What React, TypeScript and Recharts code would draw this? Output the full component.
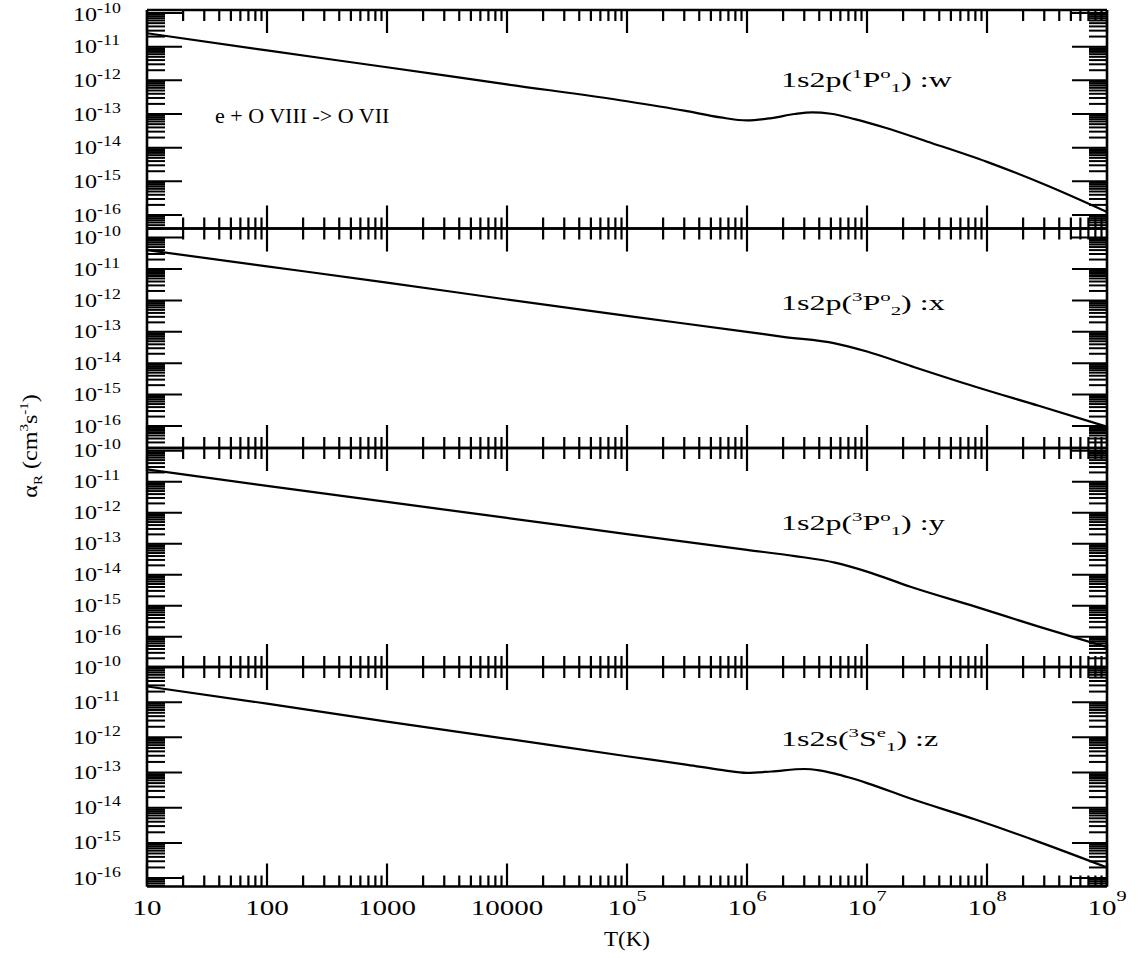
import React from "react";
import { LineChart, Line, XAxis, YAxis } from "recharts";

const W = 1144;
const H = 958;
const SERIF = "'Liberation Serif', 'Times New Roman', serif";

// radiative recombination rate coefficients, e + O VIII -> O VII (cm^3 s^-1)
const tempW = [10, 100, 1e3, 1e4, 1e5, 3e5, 6e5, 1e6, 1.6e6, 2.5e6, 3.5e6, 5e6, 7.9e6, 1.4e7, 3.2e7, 1e8, 3.2e8, 1e9];
const rateW = [2.51e-11, 7.76e-12, 2.45e-12, 7.59e-13, 2.4e-13, 1.26e-13, 7.94e-14, 6.46e-14, 7.59e-14, 1.0e-13, 1.12e-13, 1.02e-13, 7.08e-14, 3.98e-14, 1.51e-14, 3.8e-15, 7.41e-16, 1.23e-16];

const tempX = [10, 100, 1e3, 1e4, 1e5, 1e6, 2e6, 5.4e6, 1e7, 2.4e7, 8e7, 2.7e8, 1e9];
const rateX = [4.0e-11, 1.22e-11, 3.7e-12, 1.07e-12, 3.2e-13, 1.0e-13, 6.9e-14, 4.3e-14, 2.35e-14, 7.8e-15, 1.78e-15, 4.4e-16, 9.5e-17];

const tempY = [10, 100, 1e3, 1e4, 1e5, 1e6, 2.5e6, 5.4e6, 1e7, 2.3e7, 8e7, 2.7e8, 1e9];
const rateY = [2.5e-11, 7.4e-12, 2.24e-12, 6.8e-13, 2.04e-13, 6.3e-14, 4.0e-14, 2.45e-14, 1.26e-14, 4.1e-15, 9.3e-16, 2.1e-16, 4.6e-17];

const tempZ = [10, 100, 1e3, 1e4, 1e5, 3.2e5, 6.3e5, 1e6, 1.6e6, 3e6, 4e6, 5.4e6, 7.1e6, 1e7, 2.3e7, 8e7, 2.7e8, 1e9];
const rateZ = [2.8e-11, 9.1e-12, 2.8e-12, 9.1e-13, 2.9e-13, 1.66e-13, 1.17e-13, 9.8e-14, 1.07e-13, 1.26e-13, 1.15e-13, 9.3e-14, 7.2e-14, 5.0e-14, 1.82e-14, 4.6e-15, 1.07e-15, 2.0e-16];

// state labels
const stateHead = ["1s2p(", "1s2p(", "1s2p(", "1s2s("];
const stateMult = ["1", "3", "3", "3"];
const stateTerm = ["P", "P", "P", "S"];
const stateParity = ["o", "o", "o", "e"];
const stateJ = ["1", "2", "1", "1"];
const stateLine = ["w", "x", "y", "z"];

// x tick labels
const xMajor = [10, 100, 1e3, 1e4, 1e5, 1e6, 1e7, 1e8, 1e9];
const xMajorBase = ["10", "100", "1000", "10000", "10", "10", "10", "10", "10"];
const xMajorExp = ["", "", "", "", "5", "6", "7", "8", "9"];

// panel layout (pixels) and y ranges (log10 of the domain ends)
const panelTop = [10, 228.5, 448, 667];
const panelBottom = [228.5, 448, 667, 886.5];
const yLowExp = [-16.4, -16.7, -16.98, -16.24];
const yHighExp = [-9.91, -9.71, -9.91, -10];
const labelBaseline = [87, 310, 530, 746];

const PLOT_LEFT = 147;
const PLOT_RIGHT = 1107;

const xTicks: number[] = [];
for (let n = 1; n <= 8; n++) for (let k = 1; k <= 9; k++) xTicks.push(k * 10 ** n);
xTicks.push(1e9);

const yTicksAll: number[] = [];
for (let n = -17; n <= -10; n++) for (let k = 1; k <= 9; k++) yTicksAll.push(k * 10 ** n);

const isMajor = (v: number) => Math.abs(Math.log10(v) - Math.round(Math.log10(v))) < 1e-6;

const LeftTick = (props: any) => {
  const { x, y, payload } = props;
  const major = isMajor(payload.value);
  const exp = Math.round(Math.log10(payload.value));
  // keep the topmost label inside the picture
  const ty = Math.max(y, 14);
  return (
    <g>
      <line x1={x} x2={x + (major ? 35 : 18)} y1={y} y2={y} stroke="#000" strokeWidth={2} />
      {major && (
        <text transform={`translate(73, ${ty + 6.5}) scale(1.27, 1)`} fontFamily={SERIF} fontSize={19} fill="#000">
          10
          <tspan fontSize={14} dy={-8}>{`${exp}`}</tspan>
        </text>
      )}
    </g>
  );
};

const RightTick = (props: any) => {
  const { x, y, payload } = props;
  const major = isMajor(payload.value);
  return <line x1={x} x2={x - (major ? 35 : 18)} y1={y} y2={y} stroke="#000" strokeWidth={2} />;
};

const TopTick = (props: any) => {
  const { x, y, payload } = props;
  const major = isMajor(payload.value);
  return <line x1={x} x2={x} y1={y} y2={y + (major ? 23 : 11)} stroke="#000" strokeWidth={2.2} />;
};

const BottomTick = (props: any) => {
  const { x, y, payload, showLabel } = props;
  const major = isMajor(payload.value);
  const idx = xMajor.findIndex((m) => Math.abs(m - payload.value) < 1e-6 * m);
  return (
    <g>
      <line x1={x} x2={x} y1={y} y2={y - (major ? 23 : 11)} stroke="#000" strokeWidth={2.2} />
      {showLabel && idx >= 0 && (
        <text transform={`translate(${x}, 915) scale(1.45, 1)`} textAnchor="middle" fontFamily={SERIF} fontSize={20} fill="#000">
          {xMajorBase[idx]}
          {xMajorExp[idx] && (
            <tspan fontSize={14} dy={-14}>
              {xMajorExp[idx]}
            </tspan>
          )}
        </text>
      )}
    </g>
  );
};

const axisLine = { stroke: "#000", strokeWidth: 2.6 };

const Panel = ({ i, temps, rates }: { i: number; temps: number[]; rates: number[] }) => {
  const data = temps.map((t, k) => ({ t, r: rates[k] }));
  const lo = 10 ** yLowExp[i];
  const hi = 10 ** yHighExp[i];
  const yTicks = yTicksAll.filter((v) => v >= lo * 0.9999 && v <= hi * 1.0001);
  const xProps = {
    dataKey: "t",
    type: "number" as const,
    scale: "log" as const,
    domain: [10, 1e9],
    allowDataOverflow: true,
    ticks: xTicks,
    interval: 0 as const,
    height: 1,
    tickSize: 0,
    tickMargin: 0,
    tickLine: false,
    axisLine,
  };
  const yProps = {
    type: "number" as const,
    scale: "log" as const,
    domain: [lo, hi],
    allowDataOverflow: true,
    ticks: yTicks,
    interval: 0 as const,
    width: 1,
    tickSize: 0,
    tickMargin: 0,
    tickLine: false,
    axisLine,
  };
  return (
    <div style={{ position: "absolute", left: 0, top: 0 }}>
      <LineChart
        width={W}
        height={H}
        data={data}
        margin={{
          top: panelTop[i] - 1,
          bottom: H - panelBottom[i] - 1,
          left: PLOT_LEFT - 1,
          right: W - PLOT_RIGHT - 1,
        }}
      >
        <XAxis xAxisId="b" orientation="bottom" {...xProps} tick={(p: any) => <BottomTick {...p} showLabel={i === 3} />} />
        <XAxis xAxisId="t" orientation="top" {...xProps} tick={(p: any) => <TopTick {...p} />} />
        <YAxis yAxisId="l" orientation="left" {...yProps} tick={(p: any) => <LeftTick {...p} />} />
        <YAxis yAxisId="r" orientation="right" {...yProps} tick={(p: any) => <RightTick {...p} />} />
        <Line
          xAxisId="b"
          yAxisId="l"
          dataKey="r"
          type="monotone"
          stroke="#000"
          strokeWidth={2.2}
          dot={false}
          isAnimationActive={false}
        />
      </LineChart>
    </div>
  );
};

export default function App() {
  const series = [
    [tempW, rateW],
    [tempX, rateX],
    [tempY, rateY],
    [tempZ, rateZ],
  ];
  return (
    <div style={{ position: "absolute", left: 0, top: 0, width: W, height: H, background: "#fff", overflow: "hidden" }}>
      {series.map(([t, r], i) => (
        <Panel key={i} i={i} temps={t} rates={r} />
      ))}
      <svg width={W} height={H} style={{ position: "absolute", left: 0, top: 0 }}>
        <text x={215} y={123} fontFamily={SERIF} fontSize={22} fill="#000">
          e + O VIII -&gt; O VII
        </text>
        {stateLine.map((ln, i) => (
          <text
            key={ln}
            transform={`translate(781, ${labelBaseline[i]}) scale(1.6, 1)`}
            fontFamily={SERIF}
            fontSize={20}
            fill="#000"
          >
            {stateHead[i]}
            <tspan fontSize={13} dy={-9}>{stateMult[i]}</tspan>
            <tspan dy={9}>{stateTerm[i]}</tspan>
            <tspan fontSize={13} dy={-9}>{stateParity[i]}</tspan>
            <tspan fontSize={13} dy={14}>{stateJ[i]}</tspan>
            <tspan dy={-5}>{`) :${ln}`}</tspan>
          </text>
        ))}
        <text transform="translate(627, 946) scale(1.15, 1)" textAnchor="middle" fontFamily={SERIF} fontSize={20} fill="#000">
          T(K)
        </text>
        <text transform="translate(37, 446) rotate(-90) scale(1.15, 1)" textAnchor="middle" fontFamily={SERIF} fontSize={21} fill="#000">
          α
          <tspan fontSize={13} dy={5}>R</tspan>
          <tspan dy={-5}> (cm</tspan>
          <tspan fontSize={13} dy={-9}>3</tspan>
          <tspan dy={9}>s</tspan>
          <tspan fontSize={13} dy={-9}>-1</tspan>
          <tspan dy={9}>)</tspan>
        </text>
      </svg>
    </div>
  );
}
